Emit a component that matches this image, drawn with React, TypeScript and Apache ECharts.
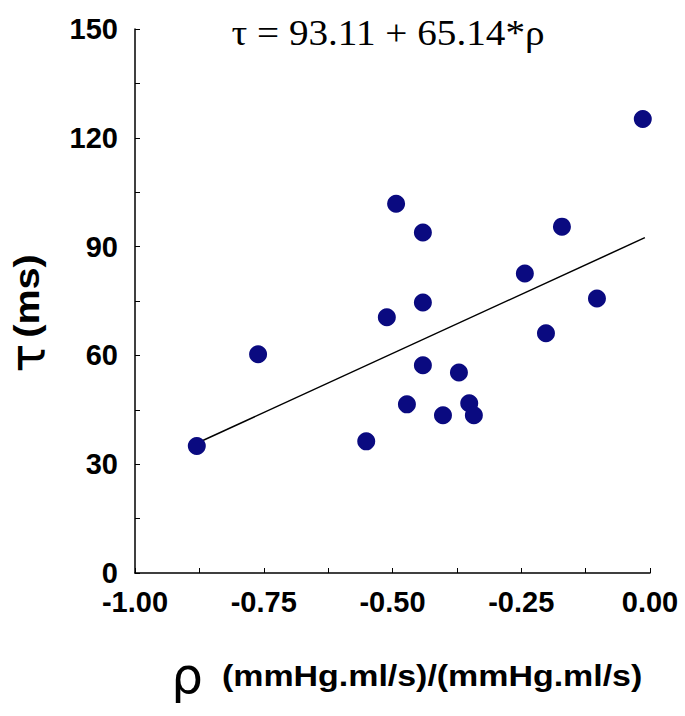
import React, { useEffect, useRef } from "react";
import * as echarts from "echarts";

const rhoValues = [-0.88, -0.761, -0.551, -0.493, -0.511, -0.441, -0.441, -0.441, -0.472, -0.402, -0.371, -0.351, -0.342, -0.243, -0.202, -0.171, -0.103, -0.014];
const tauValues = [35.0, 60.3, 36.3, 101.8, 70.5, 93.9, 74.6, 57.3, 46.5, 43.5, 55.3, 46.8, 43.5, 82.6, 66.1, 95.5, 75.7, 125.2];
const fitCoefficients = [93.11, 65.14];
const fitRange = [-0.88, -0.01];
const titleText = "τ = 93.11 + 65.14*ρ";
const yNameParts = ["τ", "(ms)"];
const xNameParts = ["ρ", "(mmHg.ml/s)/(mmHg.ml/s)"];

export default function App() {
  const ref = useRef<HTMLDivElement>(null);
  useEffect(() => {
    if (!ref.current) return;
    const chart = echarts.init(ref.current, null, { renderer: "svg" });
    const points = rhoValues.map((r, i) => [r, tauValues[i]]);
    const fitLine = fitRange.map((r) => [r, fitCoefficients[0] + fitCoefficients[1] * r]);
    const labelFont = {
      color: "#000",
      fontFamily: "Liberation Sans, Arial, sans-serif",
      fontWeight: "bold" as const,
      fontSize: 29,
    };
    chart.setOption({
      animation: false,
      backgroundColor: "#fff",
      grid: { left: 135, right: 35, top: 29, bottom: 143, containLabel: false },
      xAxis: {
        type: "value",
        min: -1,
        max: 0,
        interval: 0.25,
        axisLine: { show: true, onZero: false, lineStyle: { color: "#000", width: 1.5 } },
        axisTick: { show: true, inside: true, length: 5, lineStyle: { color: "#000" } },
        minorTick: { show: true, splitNumber: 2, length: 5, lineStyle: { color: "#000" } },
        splitLine: { show: false },
        axisLabel: {
          ...labelFont,
          lineHeight: 24,
          margin: 17,
          formatter: (v: number) => v.toFixed(2),
        },
      },
      yAxis: {
        type: "value",
        min: 0,
        max: 150,
        interval: 30,
        axisLine: { show: true, onZero: false, lineStyle: { color: "#000", width: 1.5 } },
        axisTick: { show: true, inside: true, length: 5, lineStyle: { color: "#000" } },
        minorTick: { show: true, splitNumber: 2, length: 5, lineStyle: { color: "#000" } },
        splitLine: { show: false },
        axisLabel: { ...labelFont, lineHeight: 22, padding: [0, 0, 4, 0], margin: 17 },
      },
      series: [
        {
          type: "line",
          data: fitLine,
          symbol: "none",
          lineStyle: { color: "#000", width: 1.5 },
          z: 1,
        },
        {
          type: "scatter",
          data: points,
          symbolSize: 18,
          itemStyle: { color: "#0a0a80", opacity: 1 },
          z: 2,
        },
      ],
      graphic: [
        {
          type: "text",
          x: 388,
          y: 33,
          scaleX: 1.12,
          style: {
            text: titleText,
            font: "35px 'Liberation Serif', 'Times New Roman', serif",
            fill: "#000",
            align: "center",
            verticalAlign: "middle",
          },
        },
        {
          type: "text",
          x: 27,
          y: 358,
          rotation: Math.PI / 2,
          style: {
            text: yNameParts[0],
            font: "48px 'DejaVu Sans', sans-serif",
            fill: "#000",
            align: "center",
            verticalAlign: "middle",
          },
        },
        {
          type: "text",
          x: 27,
          y: 296,
          rotation: Math.PI / 2,
          scaleX: 1.1,
          style: {
            text: yNameParts[1],
            font: "bold 36px 'Liberation Sans', Arial, sans-serif",
            fill: "#000",
            align: "center",
            verticalAlign: "middle",
          },
        },
        {
          type: "text",
          x: 187,
          y: 676,
          style: {
            text: xNameParts[0],
            font: "50px 'DejaVu Sans', sans-serif",
            fill: "#000",
            align: "center",
            verticalAlign: "middle",
          },
        },
        {
          type: "text",
          x: 222,
          y: 676,
          scaleX: 1.17,
          style: {
            text: xNameParts[1],
            font: "bold 29px 'Liberation Sans', Arial, sans-serif",
            fill: "#000",
            align: "left",
            verticalAlign: "middle",
          },
        },
      ],
    });
    return () => chart.dispose();
  }, []);
  return <div ref={ref} style={{ width: 685, height: 716, position: "absolute", left: 0, top: 0 }} />;
}
